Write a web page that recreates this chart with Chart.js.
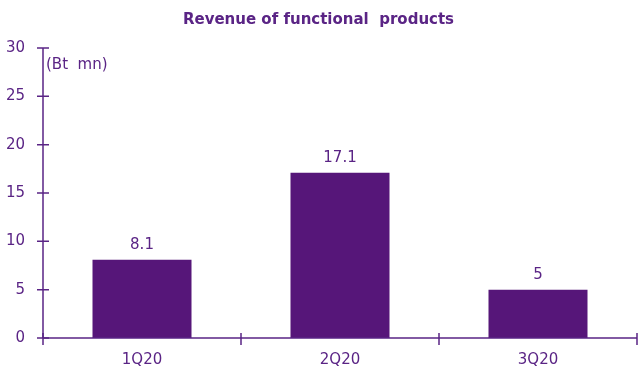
<!DOCTYPE html>
<html>
<head>
<meta charset="utf-8">
<script src="https://cdn.jsdelivr.net/npm/chart.js@4.4.1/dist/chart.umd.min.js"></script>
<style>
  html, body { margin: 0; padding: 0; background: #ffffff; }
  #wrap { width: 638px; height: 371px; }
</style>
</head>
<body>
<div id="wrap"><canvas id="c"></canvas></div>
<script>
// Quarterly revenue of functional products (Bt mn)
const categories = ['1Q20', '2Q20', '3Q20'];
const revenue = [8.1, 17.1, 5];
const yTicks = [0, 5, 10, 15, 20, 25, 30];

const PURPLE = '#561679';
const TEXT = '#5a2485';
const FONT = "'DejaVu Sans', Verdana, sans-serif";

// Tick marks that cross the axis lines, plus value labels and unit note
const decorations = {
  id: 'decorations',
  afterDraw(chart) {
    const { ctx, chartArea, scales } = chart;
    const x = scales.x, y = scales.y;
    const left = chartArea.left, bottom = chartArea.bottom;
    ctx.save();
    ctx.strokeStyle = TEXT;
    ctx.lineWidth = 1.5;

    // axis lines
    ctx.beginPath();
    ctx.moveTo(left, chartArea.top);
    ctx.lineTo(left, bottom);
    ctx.moveTo(left, bottom);
    ctx.lineTo(chartArea.right, bottom);
    ctx.stroke();

    // y ticks
    ctx.beginPath();
    yTicks.forEach(v => {
      const py = y.getPixelForValue(v);
      ctx.moveTo(left - 6, py);
      ctx.lineTo(left + 6, py);
    });
    // x ticks at category boundaries
    const n = categories.length;
    for (let i = 0; i <= n; i++) {
      const px = x.getPixelForValue(i - 0.5);
      ctx.moveTo(px, bottom - 5);
      ctx.lineTo(px, bottom + 7);
    }
    ctx.stroke();

    // value labels above bars
    ctx.fillStyle = TEXT;
    ctx.font = '15px ' + FONT;
    ctx.textAlign = 'center';
    ctx.textBaseline = 'bottom';
    const meta = chart.getDatasetMeta(0);
    meta.data.forEach((bar, i) => {
      ctx.fillText(String(revenue[i]), bar.x, bar.y - 7);
    });

    // unit note
    ctx.textAlign = 'left';
    ctx.textBaseline = 'middle';
    ctx.fillText('(Bt  mn)', left + 3, chartArea.top + 17);
    ctx.restore();
  }
};

new Chart(document.getElementById('c'), {
  type: 'bar',
  data: {
    labels: categories,
    datasets: [{
      data: revenue,
      backgroundColor: PURPLE,
      borderWidth: 0,
      categoryPercentage: 0.5,
      barPercentage: 1.0
    }]
  },
  options: {
    responsive: true,
    maintainAspectRatio: false,
    animation: false,
    layout: { padding: { left: 0, right: 1, top: 0, bottom: 0 } },
    plugins: {
      legend: { display: false },
      tooltip: { enabled: false },
      title: {
        display: true,
        text: 'Revenue of functional  products',
        color: TEXT,
        font: { family: FONT, size: 15, weight: 'bold', lineHeight: 1.2 },
        padding: { top: 11, bottom: 19 }
      }
    },
    scales: {
      x: {
        afterFit(scale) { scale.height = 33; },
        grid: { display: false, drawTicks: false },
        border: { display: false },
        ticks: {
          color: TEXT,
          font: { family: FONT, size: 15 },
          padding: 13
        }
      },
      y: {
        min: 0,
        max: 30,
        afterBuildTicks(scale) {
          scale.ticks = yTicks.map(v => ({ value: v }));
        },
        afterFit(scale) { scale.width = 43; },
        grid: { display: false, drawTicks: false },
        border: { display: false },
        ticks: {
          color: TEXT,
          font: { family: FONT, size: 15 },
          padding: 18
        }
      }
    }
  },
  plugins: [decorations]
});
</script>
</body>
</html>
